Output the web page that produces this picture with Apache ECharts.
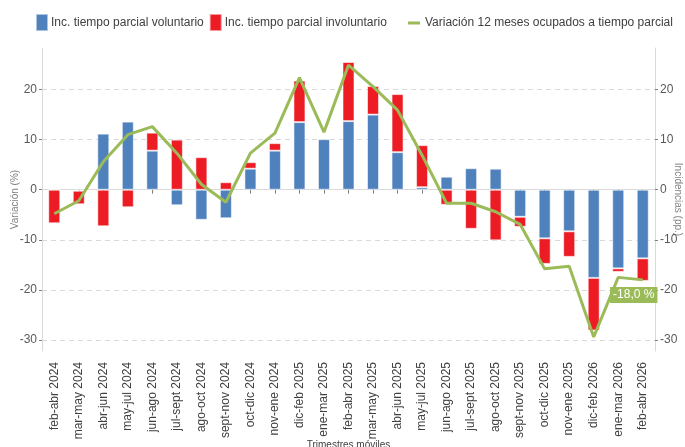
<!DOCTYPE html>
<html>
<head>
<meta charset="utf-8">
<script src="https://cdn.jsdelivr.net/npm/echarts@6/dist/echarts.min.js"></script>
<style>
  html, body { margin: 0; padding: 0; background: #fff; }
  #chart { width: 685px; height: 447px; }
</style>
</head>
<body>
<div id="chart"></div>
<script>
var categories = ['feb-abr 2024', 'mar-may 2024', 'abr-jun 2024', 'may-jul 2024', 'jun-ago 2024',
    'jul-sept 2024', 'ago-oct 2024', 'sept-nov 2024', 'oct-dic 2024', 'nov-ene 2024',
    'dic-feb 2025', 'ene-mar 2025', 'feb-abr 2025', 'mar-may 2025', 'abr-jun 2025',
    'may-jul 2025', 'jun-ago 2025', 'jul-sept 2025', 'ago-oct 2025', 'sept-nov 2025',
    'oct-dic 2025', 'nov-ene 2025', 'dic-feb 2026', 'ene-mar 2026', 'feb-abr 2026'];
var voluntario = [0, -0.2, 11.2, 13.6, 7.8, -3.1, -6.0, -5.7, 4.2, 7.8, 13.5, 10.1, 13.7,
    15.0, 7.5, 0.5, 2.6, 4.3, 4.2, -5.4, -9.7, -8.3, -17.6, -15.7, -13.7];
var involuntario = [-6.7, -2.7, -7.3, -3.5, 3.6, 10.0, 6.5, 1.5, 1.3, 1.5, 8.3, 0.2, 11.8,
    5.7, 11.6, 8.4, -3.0, -7.8, -10.1, -2.0, -5.1, -5.1, -10.5, -0.7, -4.5];
var variacion = [-4.8, -2.2, 5.6, 11.0, 12.6, 7.3, 1.1, -2.5, 7.3, 11.3, 22.4, 11.5, 24.9,
    20.6, 15.9, 6.9, -2.7, -2.7, -4.4, -6.9, -15.8, -15.3, -29.4, -17.5, -18.0];
var yTicks = [-30, -20, -10, 0, 10, 20];

var sans = '"Liberation Sans", Arial, sans-serif';

var myChart = echarts.init(document.getElementById('chart'));

function yAxisOpt(pos, name) {
    return {
        type: 'value',
        position: pos,
        min: -32.2,
        max: 28.3,
        name: name,
        nameLocation: 'middle',
        nameGap: pos == 'left' ? 22 : 18,
        nameRotate: pos == 'left' ? 90 : -90,
        nameMoveOverlap: false,
        nameTextStyle: { fontFamily: sans, fontSize: 10, color: '#808080' },
        axisLine: { show: true, lineStyle: { color: '#d9d9d9', width: 1 } },
        axisTick: { show: true, length: 3, customValues: yTicks, lineStyle: { color: '#808080' } },
        axisLabel: { customValues: yTicks, margin: 5, fontFamily: sans, fontSize: 12, color: '#595959' },
        splitLine: { show: pos == 'left', customValues: yTicks, lineStyle: { color: '#d9d9d9', type: [5, 4], width: 1 } }
    };
}

var lastIdx = variacion.length - 1;
var lineData = variacion.map(function (v, i) {
    if (i != lastIdx) return v;
    return {
        value: v,
        label: {
            show: true,
            position: 'bottom',
            distance: 7,
            offset: [-9, 0],
            formatter: function (p) { return p.value.toFixed(1).replace('.', ',') + ' %'; },
            backgroundColor: '#9bbb59',
            color: '#fff',
            fontFamily: sans,
            fontSize: 12,
            padding: [2, 3, 2, 3]
        }
    };
});

var option = {
    animation: false,
    grid: { left: 42, right: 30, top: 48, bottom: 96, outerBoundsMode: 'none' },
    legend: [
        {
            left: 30, top: 8,
            itemWidth: 12, itemHeight: 17, itemGap: 5,
            icon: 'rect',
            textStyle: { fontFamily: sans, fontSize: 12, color: '#404040', padding: [0, 0, 0, -2] },
            data: ['Inc. tiempo parcial voluntario', 'Inc. tiempo parcial involuntario']
        },
        {
            left: 403, top: 12,
            itemWidth: 12, itemHeight: 3,
            icon: 'rect',
            textStyle: { fontFamily: sans, fontSize: 12, color: '#404040' },
            data: ['Variación 12 meses ocupados a tiempo parcial']
        }
    ],
    xAxis: {
        type: 'category',
        data: categories,
        name: 'Trimestres móviles',
        nameLocation: 'middle',
        nameGap: 89,
        nameMoveOverlap: false,
        nameTextStyle: { fontFamily: sans, fontSize: 10, color: '#404040' },
        axisLine: { show: true, lineStyle: { color: '#d9d9d9' } },
        axisTick: { show: true, alignWithLabel: true, length: 4, lineStyle: { color: '#808080' } },
        axisLabel: { rotate: 90, interval: 0, margin: 11, fontFamily: sans, fontSize: 12, color: '#404040' }
    },
    yAxis: [yAxisOpt('left', 'Variación (%)'), yAxisOpt('right', 'Incidencias (pp.)')],
    series: [
        {
            name: 'Inc. tiempo parcial voluntario',
            type: 'bar',
            stack: 'inc',
            barWidth: 12,
            itemStyle: { color: '#4f81bd', borderColor: 'rgba(255,255,255,0.55)', borderWidth: 1 },
            data: voluntario
        },
        {
            name: 'Inc. tiempo parcial involuntario',
            type: 'bar',
            stack: 'inc',
            barWidth: 12,
            itemStyle: { color: '#ed1c24', borderColor: 'rgba(255,255,255,0.55)', borderWidth: 1 },
            data: involuntario
        },
        {
            name: 'Variación 12 meses ocupados a tiempo parcial',
            type: 'line',
            showSymbol: true,
            symbol: 'circle',
            symbolSize: 0,
            lineStyle: { color: '#9bbb59', width: 3 },
            itemStyle: { color: '#9bbb59' },
            data: lineData,
            z: 5
        }
    ]
};
myChart.setOption(option);
</script>
</body>
</html>
